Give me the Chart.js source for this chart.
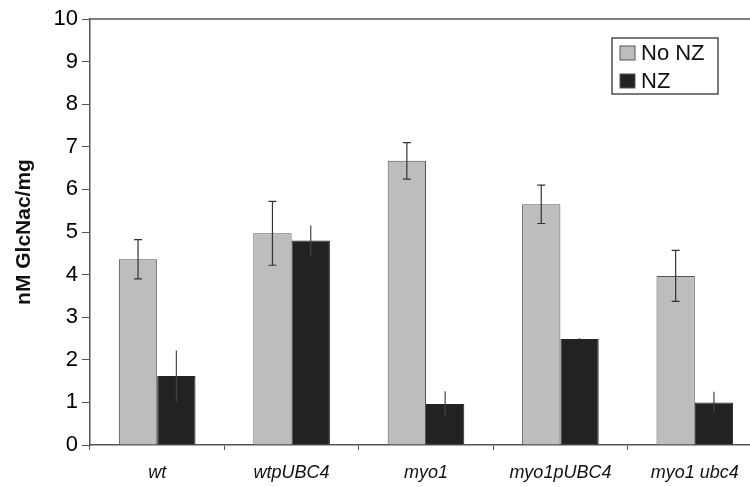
<!DOCTYPE html>
<html>
<head>
<meta charset="utf-8">
<script src="https://cdn.jsdelivr.net/npm/chart.js@4"></script>
<style>
  html, body { margin: 0; padding: 0; background: #fff; overflow: hidden; }
  #wrap { width: 762px; height: 487px; position: relative; }
</style>
</head>
<body>
<div id="wrap"><canvas id="c"></canvas></div>
<script>
// strains on the x axis
const categories = ["wt", "wtpUBC4", "myo1", "myo1pUBC4", "myo1 ubc4"];
const seriesNames = ["No NZ", "NZ"];
// nM GlcNac/mg
const noNZ = [4.36, 4.97, 6.67, 5.65, 3.97];
const nz = [1.62, 4.80, 0.96, 2.49, 1.00];
// error bar half-widths
const noNZErr = [0.46, 0.75, 0.43, 0.45, 0.60];
const nzErr = [0.60, 0.35, 0.30, 0.02, 0.25];
const yTicks = [0, 1, 2, 3, 4, 5, 6, 7, 8, 9, 10];

const errors = [noNZErr, nzErr];
const FONT = "Arial, 'Liberation Sans', sans-serif";

// draws the error bars, the top frame line and the legend box
const extras = {
  id: "extras",
  afterDatasetsDraw(chart) {
    const ctx = chart.ctx;
    const y = chart.scales.y;
    ctx.save();
    chart.data.datasets.forEach((ds, di) => {
      const meta = chart.getDatasetMeta(di);
      meta.data.forEach((bar, i) => {
        const v = ds.data[i], e = errors[di][i];
        const yTop = y.getPixelForValue(v + e);
        const yBot = y.getPixelForValue(v - e);
        ctx.strokeStyle = di === 0 ? "#333" : "#444";
        ctx.lineWidth = 1.2;
        ctx.beginPath();
        ctx.moveTo(bar.x, yTop);
        ctx.lineTo(bar.x, yBot);
        if (di === 0) {
          ctx.moveTo(bar.x - 4, yTop); ctx.lineTo(bar.x + 4, yTop);
          ctx.moveTo(bar.x - 4, yBot); ctx.lineTo(bar.x + 4, yBot);
        }
        ctx.stroke();
      });
    });
    // top frame line
    const a = chart.chartArea;
    ctx.strokeStyle = "#555";
    ctx.lineWidth = 1.5;
    ctx.beginPath();
    ctx.moveTo(a.left, a.top);
    ctx.lineTo(a.right, a.top);
    ctx.stroke();

    // legend
    const lx = 612, ly = 38, lw = 106, lh = 56;
    ctx.fillStyle = "#fff";
    ctx.fillRect(lx, ly, lw, lh);
    ctx.strokeStyle = "#333";
    ctx.lineWidth = 1.3;
    ctx.strokeRect(lx, ly, lw, lh);
    ctx.font = "22px " + FONT;
    ctx.textBaseline = "middle";
    chart.data.datasets.forEach((ds, di) => {
      const rowY = ly + 15 + di * 28;
      ctx.fillStyle = ds.backgroundColor;
      ctx.fillRect(lx + 8, rowY - 7, 15, 14);
      ctx.strokeStyle = "#555";
      ctx.lineWidth = 1;
      ctx.strokeRect(lx + 8, rowY - 7, 15, 14);
      ctx.fillStyle = "#111";
      ctx.fillText(ds.label, lx + 29, rowY + 1);
    });
    ctx.restore();
  }
};

new Chart(document.getElementById("c"), {
  type: "bar",
  data: {
    labels: categories,
    datasets: [
      { label: seriesNames[0], data: noNZ, backgroundColor: "#bdbdbd", borderColor: "#555", borderWidth: 1 },
      { label: seriesNames[1], data: nz, backgroundColor: "#222222", borderColor: "#222", borderWidth: 1 }
    ]
  },
  options: {
    responsive: true,
    maintainAspectRatio: false,
    animation: false,
    layout: { padding: { top: 19, left: 0, right: 0, bottom: 0 } },
    datasets: { bar: { barPercentage: 1, categoryPercentage: 0.57 } },
    plugins: { legend: { display: false }, tooltip: { enabled: false } },
    scales: {
      x: {
        grid: { display: true, drawOnChartArea: false, offset: true, tickLength: 5, color: "#555" },
        border: { display: true, color: "#555", width: 1.5 },
        ticks: {
          color: "#111", padding: 12,
          font: { family: FONT, size: 18, style: "italic" }
        },
        afterFit(s) { s.height = 42; }
      },
      y: {
        min: 0, max: 10,
        afterBuildTicks(s) { s.ticks = yTicks.map(v => ({ value: v })); },
        grid: { display: true, drawOnChartArea: false, tickLength: 8, color: "#555" },
        border: { display: true, color: "#555", width: 1.5 },
        ticks: {
          color: "#000", padding: 4,
          font: { family: FONT, size: 22 }
        },
        title: {
          display: true, text: "nM GlcNac/mg", color: "#111", padding: { top: 12, bottom: 4 },
          font: { family: FONT, size: 21, weight: "bold" }
        },
        afterFit(s) { s.width = 90; }
      }
    }
  },
  plugins: [extras]
});
</script>
</body>
</html>
